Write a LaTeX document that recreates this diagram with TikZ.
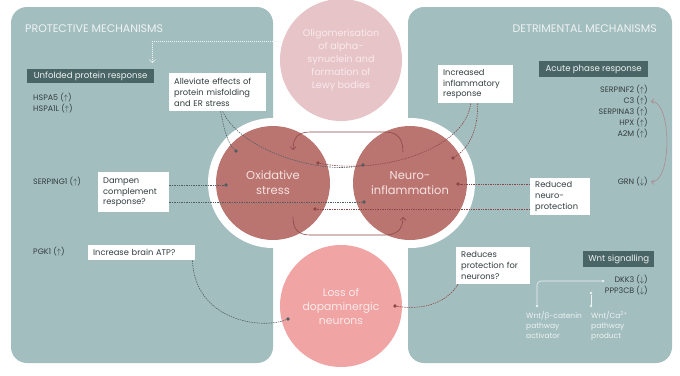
\documentclass[tikz,border=0pt]{standalone}
\usepackage{fontspec}
\setmainfont{Poppins}
\newfontfamily\grk{Open Sans}
\usetikzlibrary{arrows.meta}
\definecolor{panel}{RGB}{163,190,191}
\definecolor{hdr}{RGB}{74,101,102}
\definecolor{redc}{RGB}{186,117,113}
\definecolor{topc}{RGB}{231,196,200}
\definecolor{botc}{RGB}{240,164,164}
\definecolor{gline}{RGB}{78,94,96}
\definecolor{rline}{RGB}{140,70,70}
\definecolor{gtext}{RGB}{52,62,63}
\definecolor{ctext}{RGB}{248,226,224}
\definecolor{acc}{RGB}{172,136,142}
\definecolor{ltext}{RGB}{238,243,243}
\newcommand\myfs[2]{\fontsize{#1}{#2}\selectfont}
\newcommand\up{($\uparrow$)}
\newcommand\dn{($\downarrow$)}
\tikzset{
  wbox/.style={fill=white, text=gtext, font=\myfs{8.3}{10.8}, align=left, anchor=north west,
    inner xsep=5pt, inner ysep=0pt},
  hbox/.style={fill=hdr, text=ltext, font=\myfs{8.6}{10}, align=center, anchor=north west,
    inner sep=0pt},
  gene/.style={text=gtext, font=\myfs{7.9}{9}, inner sep=1pt},
  title/.style={text=ltext, font=\myfs{11}{12}, inner sep=0pt},
  bigc/.style={circle, inner sep=0pt, align=center},
  gdot/.style={circle, fill=gline, inner sep=0pt, minimum size=3.6pt},
  rdot/.style={circle, fill=rline, inner sep=0pt, minimum size=3.6pt},
  wdot/.style={circle, fill=ltext, inner sep=0pt, minimum size=2.6pt},
  gcon/.style={draw=gline, line width=0.6pt, dash pattern=on 1.4pt off 1pt},
  rcon/.style={draw=rline, line width=0.6pt, dash pattern=on 1.4pt off 1pt},
  cyc/.style={draw=rline, line width=0.6pt, -{Straight Barb[length=3pt,width=6pt]}},
  wlab/.style={text=ltext, font=\myfs{7.5}{10.3}, align=left, anchor=north west, inner sep=0pt}
}
\begin{document}
\begin{tikzpicture}[x=1pt,y=-1pt]
\useasboundingbox (0,0) rectangle (680,375);
\fill[white] (0,0) rectangle (680,375);
% panels
\fill[panel, rounded corners=16pt] (11,7) rectangle (273,363);
\fill[panel, rounded corners=16pt] (408,7) rectangle (672,363);
% white rings
\fill[white] (273,183) circle[radius=65];
\fill[white] (410,183) circle[radius=65];
% circles
\node[bigc, fill=topc, minimum size=122pt, text={rgb,255:red,248;green,234;blue,236}, font=\myfs{9.6}{13}] (top) at (341,60)
  {Oligomerisation\\of alpha-\\synuclein and\\formation of\\Lewy bodies};
\node[bigc, fill=redc, minimum size=114pt, text=ctext, font=\myfs{11.5}{15}] (ox) at (273,183) {Oxidative\\stress};
\node[bigc, fill=redc, minimum size=114pt, text=ctext, font=\myfs{11.5}{15}] (neu) at (410,183) {Neuro-\\inflammation};
\node[bigc, fill=botc, minimum size=122pt, text={rgb,255:red,252;green,234;blue,234}, font=\myfs{10.8}{14}] (bot) at (341,306) {Loss of\\dopaminergic\\neurons};
% cycle arrows
\draw[cyc] (403,152) .. controls (403,138) and (397,132) .. (385,132) -- (310,132) .. controls (298,132) and (293,138) .. (293,150);
\draw[cyc] (293,217) .. controls (293,229) and (298,235) .. (310,235) -- (385,235) .. controls (397,235) and (403,229) .. (403,217);
% titles
\node[title, anchor=west] (tl) at (25,29) {PROTECTIVE MECHANISMS};
\node[title, anchor=east] (tr) at (657,29) {DETRIMENTAL MECHANISMS};
% headers
\node[hbox, minimum width=127pt, minimum height=14pt] (upr) at (27,69) {Unfolded protein response};
\node[hbox, minimum width=109pt, minimum height=16pt] (apr) at (539,61) {Acute phase response};
\node[hbox, minimum width=71pt, minimum height=16pt] (wnt) at (583,251) {Wnt signalling};
% genes left
\node[gene, anchor=west] (hspa5) at (32,98) {HSPA5 \up};
\node[gene, anchor=west] (hspa1l) at (32,109) {HSPA1L \up};
\node[gene, anchor=west] (serping) at (32,182) {SERPING1 \up};
\node[gene, anchor=west] (pgk) at (32,252) {PGK1 \up};
% genes right
\node[gene, anchor=east] (sf2) at (649,90) {SERPINF2 \up};
\node[gene, anchor=east] (c3) at (649,101) {C3 \up};
\node[gene, anchor=east] (sa3) at (649,112) {SERPINA3 \up};
\node[gene, anchor=east] (hpx) at (649,123) {HPX \up};
\node[gene, anchor=east] (a2m) at (649,134) {A2M \up};
\node[gene, anchor=east] (grn) at (649,182) {GRN \dn};
\node[gene, anchor=east] (dkk) at (649,280) {DKK3 \dn};
\node[gene, anchor=east] (ppp) at (649,291) {PPP3CB \dn};
% white boxes
\node[wbox, text width=87pt, minimum height=38pt] (alle) at (169,73) {Alleviate effects of\\protein misfolding\\and ER stress};
\node[wbox, text width=61pt, minimum height=40pt] (damp) at (98,172) {Dampen\\complement\\response?};
\node[wbox, text width=97pt, minimum height=15pt] (atp) at (88,245) {Increase brain ATP?};
\node[wbox, text width=65pt, minimum height=38pt] (incr) at (438,65) {Increased\\inflammatory\\response};
\node[wbox, text width=50pt, minimum height=37pt] (redu) at (530,178) {Reduced\\neuro-\\protection};
\node[wbox, text width=64pt, minimum height=37pt] (reds) at (456,247) {Reduces\\protection for\\neurons?};
% wnt labels
\node[wlab] (wl1) at (526,311) {Wnt/{\grk β}-catenin\\pathway\\activator};
\node[wlab] (wl2) at (591,311) {Wnt/Ca\textsuperscript{2+}\\pathway\\product};
% dots
\node[gdot] (g1) at (236,151) {};
\node[rdot] (r1) at (318,163) {};
\node[gdot] (g2) at (363,165) {};
\node[gdot] (g3) at (226,185) {};
\node[gdot] (g4) at (364,202) {};
\node[rdot] (r2) at (315,209) {};
\node[rdot] (r3) at (453,158) {};
\node[rdot] (r4) at (458,184) {};
\node[gdot] (g5) at (288,319) {};
\node[rdot] (r5) at (395,306) {};
\node[wdot] (w1) at (603,281) {};
\node[wdot] (w2) at (537,306) {};
\node[wdot] (w3) at (591,293) {};
\node[wdot] (w4) at (591,306) {};
% connectors
\draw[gcon] ([xshift=3pt]alle.south) .. controls (224,130) and (228,144) .. (g1);
\draw[gcon] ([xshift=5pt]alle.south) .. controls (240,150) and (320,175) .. (g2);
\draw[rcon] ([xshift=2pt]incr.south) .. controls (478,135) and (466,150) .. (r3);
\draw[rcon] ([xshift=-5pt]incr.south) .. controls (465,150) and (380,175) .. (r1);
\draw[gcon] (g3 -| damp.east) -- (g3);
\draw[gcon] (g4 -| damp.east) -- (g4);
\draw[rcon] (r4 -| redu.west) -- (r4);
\draw[rcon] (r2 -| redu.west) -- (r2);
\draw[gcon] ([xshift=-3pt]atp.south east) .. controls (195,320) and (260,330) .. (g5);
\draw[rcon] ([xshift=2pt]reds.south west) .. controls (445,305) and (420,310) .. (r5);
\draw[draw=ltext, line width=0.6pt, dash pattern=on 1pt off 1pt, -{Straight Barb[length=3pt,width=6pt]}]
  (top.162) -| ([xshift=-2pt,yshift=6pt]upr.north east);
\draw[draw=acc, line width=0.55pt, {Straight Barb[length=2.5pt,width=5pt]}-{Straight Barb[length=2.5pt,width=5pt]}]
  ([xshift=2pt]c3.east) .. controls (672,102) and (672,182) .. ([xshift=2pt]grn.east);
\draw[draw=ltext, line width=0.6pt, rounded corners=4pt] (w1) -| (w2);
\draw[draw=ltext, line width=0.6pt] (w3) -- (w4);
\end{tikzpicture}
\end{document}
